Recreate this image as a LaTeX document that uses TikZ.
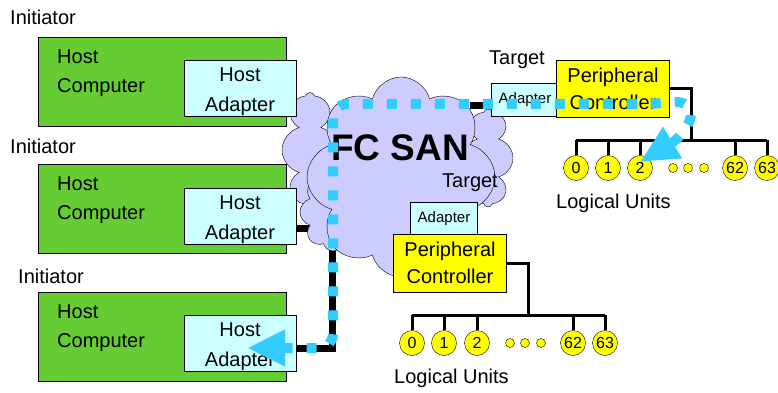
\documentclass[tikz,border=0pt]{standalone}
\usepackage{fontspec}
\setmainfont{Liberation Sans}
\usetikzlibrary{arrows.meta,positioning,shapes.symbols,backgrounds,calc}
\definecolor{hostgreen}{HTML}{66CC33}
\definecolor{adaptcyan}{HTML}{CCFFFF}
\definecolor{ctrlyellow}{HTML}{FFFF00}
\definecolor{sanlilac}{HTML}{CCCCFF}
\definecolor{flowblue}{HTML}{33CCFF}

\begin{document}
\begin{tikzpicture}[x=1pt, y=-1pt,
  lbl/.style={inner sep=0pt, anchor=base west, font=\fontsize{20}{24}\selectfont},
  host/.style={draw, fill=hostgreen, anchor=north west,
               minimum width=248pt, minimum height=89pt, inner sep=0pt},
  hosttext/.style={inner sep=0pt, anchor=north west, align=left,
                   font=\fontsize{20}{29}\selectfont},
  hba/.style={draw, fill=adaptcyan, minimum width=112pt, minimum height=56pt,
              inner sep=0pt, align=center, font=\fontsize{20}{30}\selectfont},
  tadapter/.style={draw, fill=adaptcyan, minimum width=67pt, minimum height=33pt,
                   inner sep=0pt, font=\fontsize{15}{18}\selectfont},
  ctrl/.style={draw, fill=ctrlyellow, minimum width=113pt, minimum height=57pt,
               inner sep=0pt, align=center, font=\fontsize{20}{27}\selectfont},
  lun/.style={circle, draw, fill=ctrlyellow, minimum size=25pt, inner sep=0pt,
              font=\fontsize{16}{18}\selectfont},
  lundot/.style={circle, draw, fill=ctrlyellow, minimum size=9pt, inner sep=0pt},
  sancloud/.style={cloud, cloud puffs=8, cloud ignores aspect, draw,
                   fill=sanlilac, inner sep=0pt},
  link/.style={line width=7pt},
  bus/.style={line width=3pt},
  flow/.style={line width=10pt, flowblue, dash pattern=on 10pt off 14pt,
               rounded corners=14pt,
               {Triangle[length=38pt,width=34pt]}-{Triangle[length=38pt,width=34pt]}},
]
  \useasboundingbox (0,0) rectangle (778,393);

  %% FC SAN cloud
  \node[sancloud, minimum width=56pt, minimum height=115pt] (sanl) at (310,150) {};
  \node[sancloud, minimum width=66pt, minimum height=78pt] (sanll) at (333,212) {};
  \node[sancloud, minimum width=50pt, minimum height=98pt] (sanr) at (488,158) {};
  \node[sancloud, minimum width=188pt, minimum height=200pt] (san) at (401,177) {};
  \node[inner sep=0pt, anchor=base west, font=\fontsize{37}{40}\selectfont\bfseries]
    (sanlbl) at (331,160) {FC SAN};

  %% Initiators
  \node[lbl] (ini1) at (10,25) {Initiator};
  \node[host] (hc1) at (38,37) {};
  \node[hosttext] (hc1t) at ($(hc1.north west)+(19,13)$) {Host\\Computer};
  \node[hba] (ad1) at (240,88) {\rule{0pt}{22pt}Host\\Adapter};

  \node[lbl] (ini2) at (10,153) {Initiator};
  \node[host] (hc2) at (38,164) {};
  \node[hosttext] (hc2t) at ($(hc2.north west)+(19,13)$) {Host\\Computer};
  \node[hba] (ad2) at (240,216) {\rule{0pt}{22pt}Host\\Adapter};

  \node[lbl] (ini3) at (18,283) {Initiator};
  \node[host] (hc3) at (38,292) {};
  \node[hosttext] (hc3t) at ($(hc3.north west)+(19,13)$) {Host\\Computer};
  \node[hba] (ad3) at (240,343) {\rule{0pt}{22pt}Host\\Adapter};

  %% Target 1
  \node[lbl] (tg1) at (489,65) {Target};
  \node[tadapter] (ta1) at (525,100) {Adapter};
  \node[ctrl] (pc1) at (613,89) {Peripheral\\Controller};
  \foreach \n/\x in {0/576,1/608,2/640,62/735,63/767}
    \node[lun] (ua\n) at (\x,168) {\n};
  \foreach \x in {673,688,704}
    \node[lundot] (uadot\x) at (\x,168) {};
  \coordinate (busa) at (691,140);
  \draw[bus] (pc1.east) -| (busa);
  \draw[bus] (ua0 |- busa) -- (ua63 |- busa);
  \foreach \n in {0,1,2,62,63}
    \draw[bus] (ua\n |- busa) -- (ua\n.north);
  \node[lbl] (lu1) at (556,208) {Logical Units};

  %% Target 2
  \node[lbl] (tg2) at (442,187) {Target};
  \node[tadapter] (ta2) at (444,219) {Adapter};
  \node[ctrl, minimum height=58pt] (pc2) at (450,263) {Peripheral\\Controller};
  \foreach \n/\x in {0/412,1/444,2/477,62/573,63/605}
    \node[lun] (ub\n) at (\x,343) {\n};
  \foreach \x in {510,525,541}
    \node[lundot] (ubdot\x) at (\x,343) {};
  \coordinate (busb) at (528,315);
  \draw[bus] (pc2.east) -| (busb);
  \draw[bus] (ub0 |- busb) -- (ub63 |- busb);
  \foreach \n in {0,1,2,62,63}
    \draw[bus] (ub\n |- busb) -- (ub\n.north);
  \node[lbl] (lu2) at (394,383) {Logical Units};

  %% Fibre links (behind the cloud)
  \coordinate (sanin1) at (322,108);
  \coordinate (sanin2) at (318,228);
  \coordinate (bend3) at (332,348);
  \coordinate (sanin3) at (332,235);
  \coordinate (sanout1) at (470,106);
  \begin{scope}[on background layer]
    \draw[link] (ad1.east |- sanin1) -- (sanin1);
    \draw[link] (ad2.east |- sanin2) -- (sanin2);
    \draw[link] (ad3.east |- bend3) -- (bend3) -- (sanin3);
    \draw[link] (sanout1) -- (ta1.west |- sanout1);
  \end{scope}

  %% I/O path
  \coordinate (flowa) at (247,348);
  \coordinate (flowb) at (333,348);
  \coordinate (flowc) at (333,104);
  \coordinate (flowd) at (655,104);
  \coordinate (flowe) at (640,162);
  \draw[flow] (flowa) -- (flowb) -- (flowc) -- (flowd)
    .. controls (705,98) and (690,132) .. (flowe);
\end{tikzpicture}
\end{document}
